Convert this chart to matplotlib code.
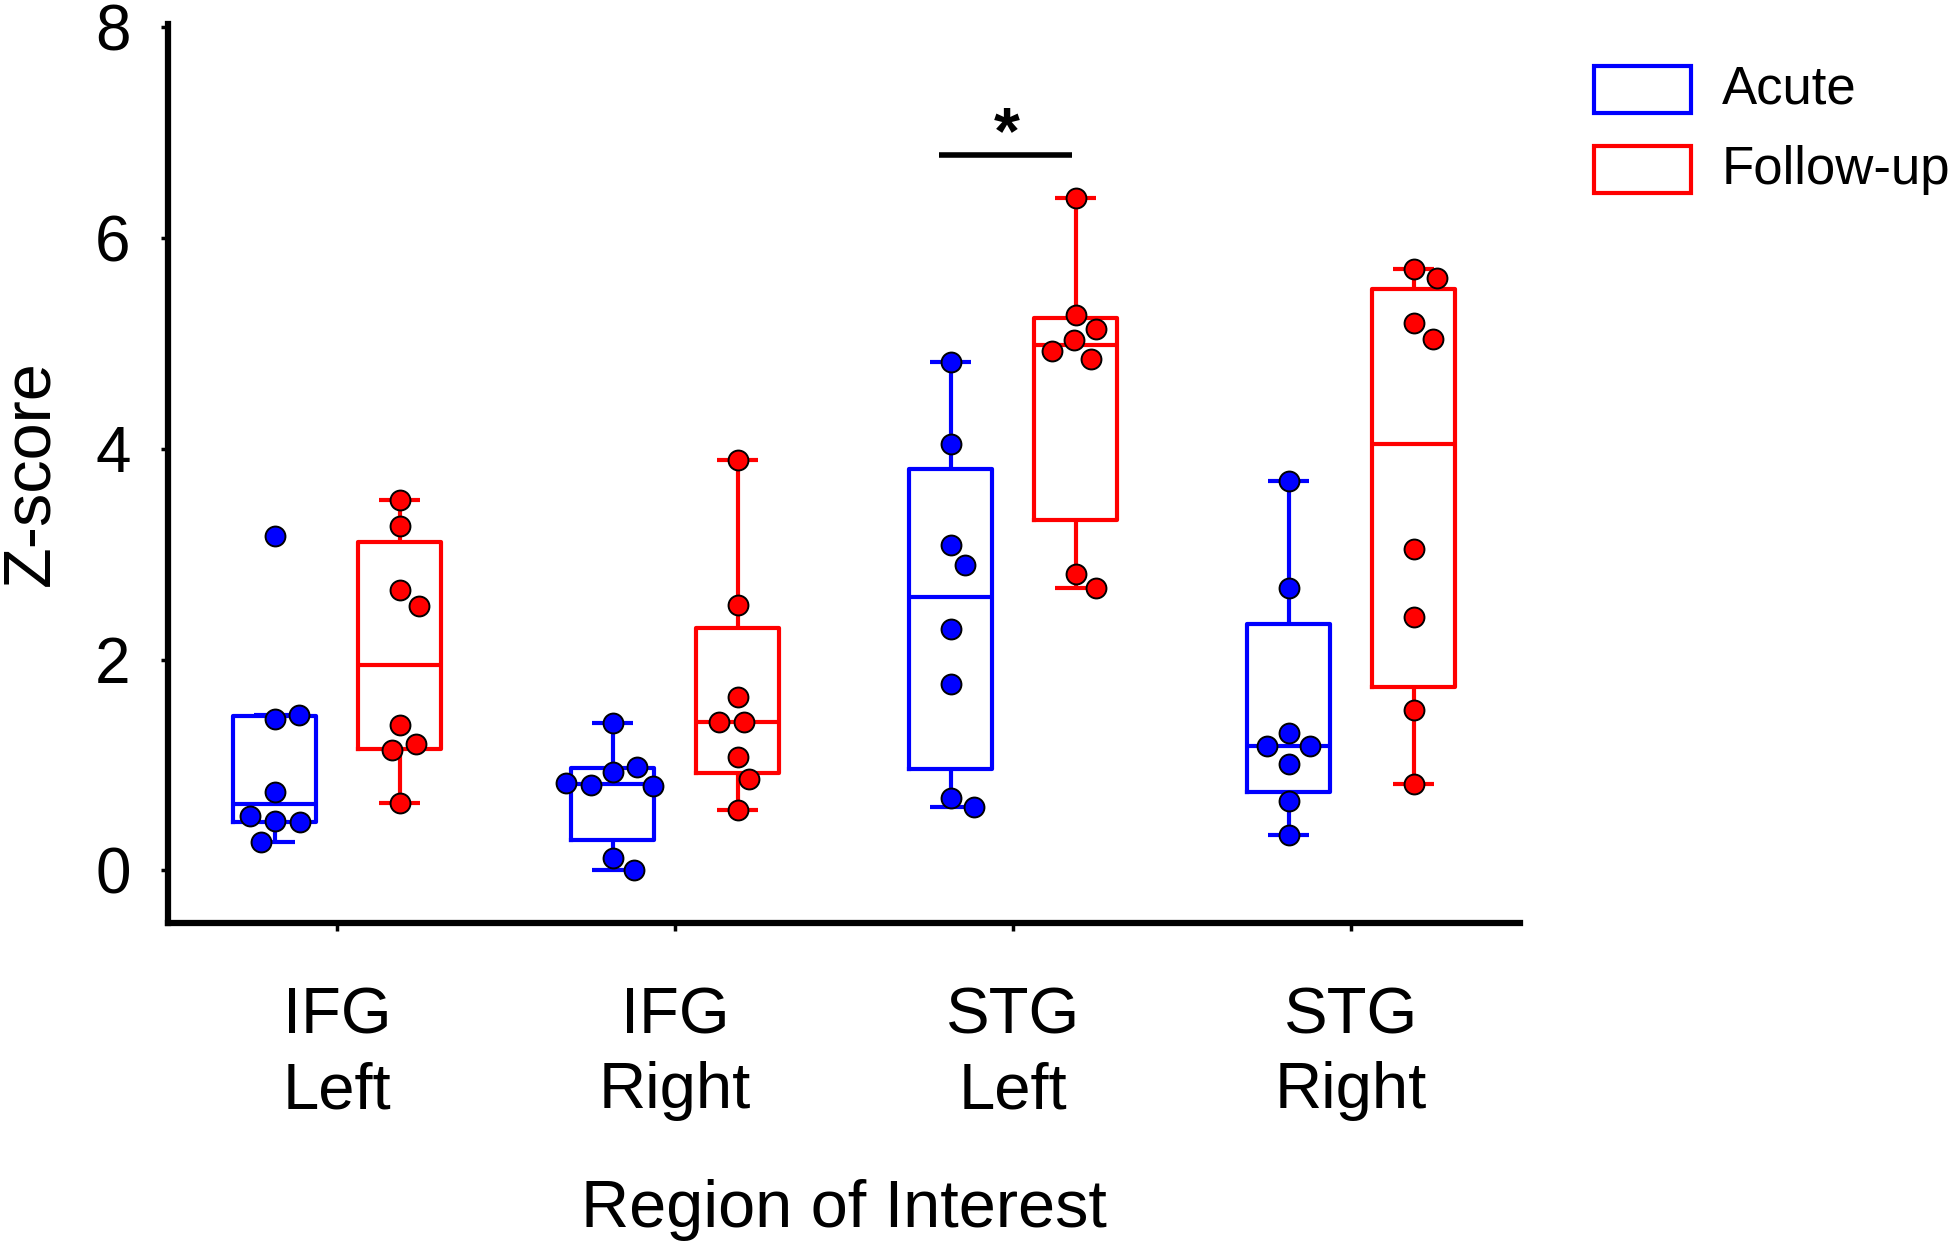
import numpy as np
import matplotlib
matplotlib.use('Agg')
import matplotlib.pyplot as plt
from matplotlib.patches import Rectangle

plt.rcParams['font.family'] = ['Liberation Sans', 'DejaVu Sans']

# ---------------- data ----------------
regions = ['IFG\nLeft', 'IFG\nRight', 'STG\nLeft', 'STG\nRight']
group_names = ['Acute', 'Follow-up']

acute = [
    [3.17, 1.44, 1.47, 0.74, 0.47, 0.46, 0.52, 0.27],
    [1.40, 0.93, 0.98, 0.81, 0.80, 0.83, 0.12, 0.00],
    [4.82, 4.05, 3.09, 2.90, 2.29, 1.77, 0.69, 0.60],
    [3.69, 2.68, 1.30, 1.18, 1.18, 1.01, 0.66, 0.34],
]
follow_up = [
    [3.51, 3.27, 2.66, 2.51, 1.38, 1.20, 1.14, 0.64],
    [3.89, 2.52, 1.64, 1.41, 1.41, 1.08, 0.87, 0.57],
    [6.38, 5.27, 5.14, 5.03, 4.93, 4.85, 2.81, 2.68],
    [5.71, 5.62, 5.19, 5.04, 3.05, 2.40, 1.52, 0.82],
]
y_ticks = [0, 2, 4, 6, 8]
sig_region = 2          # STG Left
sig_level = 6.79
sig_label = '*'

# ---------------- style ----------------
colors = ['#0000ff', '#ff0000']
offsets = [-0.185, 0.185]
box_w = 0.245
box_lw = 3.0
marker_s = 205

fig = plt.figure(figsize=(19.5, 12.46), dpi=100)
ax = fig.add_axes([0.0862, 0.2592, 0.7795 - 0.0862, 0.9807 - 0.2592])
ax.set_xlim(-0.5, 3.5)
ax.set_ylim(-0.5, 8.03)


def box_stats(vals):
    v = np.asarray(vals, float)
    q1, med, q3 = np.percentile(v, [25, 50, 75], method='weibull')
    iqr = q3 - q1
    lo = v[v >= q1 - 1.5 * iqr].min()
    hi = v[v <= q3 + 1.5 * iqr].max()
    return dict(q1=q1, med=med, q3=q3, whislo=lo, whishi=hi, fliers=[])


def swarm_x(vals, center, d=25.0):
    vals = np.asarray(vals, float)
    pts = ax.transData.transform(np.column_stack([np.full(len(vals), center), vals]))
    cx = pts[0, 0]
    ys = pts[:, 1]
    xs = np.zeros(len(vals))
    placed = []
    for i in range(len(vals)):
        cands = [0.0]
        for px, py in placed:
            dy = abs(ys[i] - py)
            if dy < d:
                dx = np.sqrt(d * d - dy * dy)
                cands += [px + dx, px - dx]
        cands.sort(key=abs)
        for c in cands:
            if all((c - px) ** 2 + (ys[i] - py) ** 2 >= d * d - 1e-6 for px, py in placed):
                xs[i] = c
                break
        placed.append((xs[i], ys[i]))
    back = ax.transData.inverted().transform(np.column_stack([cx + xs, ys]))
    return back[:, 0]


for g, (data, col, off) in enumerate(zip([acute, follow_up], colors, offsets)):
    positions = [i + off for i in range(len(regions))]
    stats = [box_stats(v) for v in data]
    lp = dict(color=col, linewidth=box_lw, solid_capstyle='butt')
    ax.bxp(stats, positions=positions, widths=box_w, showfliers=False,
           boxprops=dict(color=col, linewidth=box_lw),
           medianprops=lp, whiskerprops=lp, capprops=lp, manage_ticks=False, zorder=2)
    for p, v in zip(positions, data):
        xs = swarm_x(v, p)
        ax.scatter(xs, v, s=marker_s, facecolor=col, edgecolor='black',
                   linewidth=1.4, zorder=4)

# significance
ax.plot([sig_region - 0.219, sig_region + 0.174], [sig_level, sig_level],
        color='black', linewidth=4, solid_capstyle='butt', zorder=3)
ax.text(sig_region - 0.02, sig_level + 0.02, sig_label, ha='center', va='baseline',
        fontsize=48, fontweight='bold')

# axes styling
for s in ['top', 'right']:
    ax.spines[s].set_visible(False)
for s in ['left', 'bottom']:
    ax.spines[s].set_linewidth(4.5)
ax.set_yticks(y_ticks)
ax.set_xticks(range(len(regions)))
ax.set_xticklabels(regions, linespacing=1.3)
ax.tick_params(axis='y', direction='out', length=5, width=2.5, labelsize=46, pad=22)
ax.tick_params(axis='x', direction='out', length=6, width=2.5, labelsize=47, pad=40)

ax.set_ylabel('Z-score', fontsize=48)
ax.yaxis.set_label_coords(-0.078, 0.5)
ax.set_xlabel('Region of Interest', fontsize=48)
ax.xaxis.label.set_va('baseline')
ax.xaxis.set_label_coords(0.5, -0.3385)

# legend (manual)
leg_y = [0.9093, 0.8451]
for name, col, y0 in zip(group_names, colors, leg_y):
    fig.add_artist(Rectangle((0.8174, y0), 0.0497, 0.0377, transform=fig.transFigure,
                             facecolor='none', edgecolor=col, linewidth=3.0))
    fig.text(0.883, y0 + 0.0377 / 2, name, ha='left', va='center', fontsize=38)

fig.savefig('out.png', dpi=100)
